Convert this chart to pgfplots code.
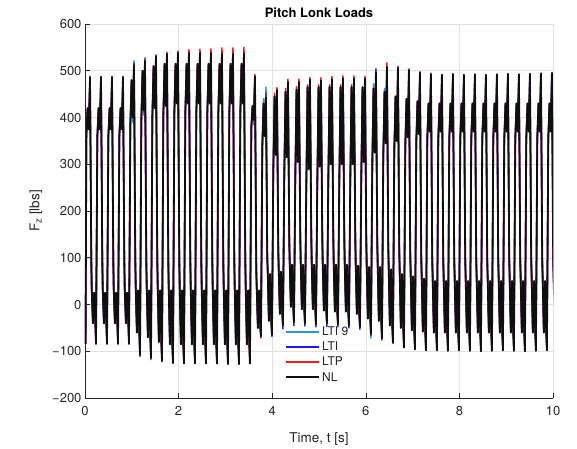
\documentclass[border=0pt]{standalone}
\usepackage{pgfplots}
\pgfplotsset{compat=1.18}
\usepackage{pgfplotstable}
\usepackage{fontspec}
\setmainfont{TeX Gyre Heros}
\definecolor{cLTInine}{RGB}{40,150,220}
\definecolor{cLTI}{RGB}{25,25,250}
\definecolor{cLTP}{RGB}{250,25,25}
\definecolor{cNL}{RGB}{15,15,15}
\definecolor{axc}{RGB}{38,38,38}
\definecolor{gridc}{RGB}{225,225,225}

\pgfplotstableread{
t nl ltp lti lti9
0.000 -30 -26 -30 -30
0.012 -84 -84 -84 -84
0.029 360 360 360 360
0.055 420 420 420 420
0.081 375 375 375 375
0.107 486 488 486 486
0.135 95 100 95 95
0.143 35 35 35 35
0.169 -40 -40 -40 -40
0.195 25 25 25 25
0.221 -40 -40 -40 -40
0.235 -84 -84 -84 -84
0.264 360 360 360 360
0.290 420 420 420 420
0.316 375 375 375 375
0.342 486 488 486 486
0.370 95 100 95 95
0.378 35 35 35 35
0.404 -40 -40 -40 -40
0.430 25 25 25 25
0.456 -40 -40 -40 -40
0.470 -84 -84 -84 -84
0.499 360 360 360 360
0.525 420 420 420 420
0.551 375 375 375 375
0.577 486 488 486 486
0.605 95 100 95 95
0.613 35 35 35 35
0.639 -40 -40 -40 -40
0.665 25 25 25 25
0.691 -40 -40 -40 -40
0.705 -84 -84 -84 -84
0.734 360 360 360 360
0.760 420 420 420 420
0.786 375 375 375 375
0.812 486 488 486 486
0.840 95 100 95 95
0.848 35 35 35 35
0.874 -40 -40 -40 -40
0.900 25 25 25 25
0.926 -40 -40 -40 -40
0.940 -84 -84 -84 -84
0.969 385 385 385 385
0.995 480 480 480 480
1.021 400 400 400 390
1.047 512 514 515 521
1.075 95 95 101 95
1.083 40 40 40 40
1.109 -60 -60 -60 -60
1.135 30 30 30 30
1.161 -60 -60 -60 -60
1.175 -108 -108 -111 -110
1.204 395 395 395 395
1.230 500 500 500 500
1.256 415 415 415 405
1.282 521 523 524 528
1.310 95 95 101 95
1.318 40 40 40 40
1.344 -70 -70 -70 -70
1.370 30 30 30 30
1.396 -70 -70 -70 -70
1.410 -114 -114 -116 -118
1.439 400 400 400 400
1.465 510 510 510 510
1.491 420 420 420 420
1.517 531 534 533 531
1.545 95 95 101 95
1.553 40 40 40 40
1.579 -80 -80 -80 -80
1.605 30 30 30 30
1.631 -80 -80 -80 -80
1.645 -120 -120 -122 -120
1.674 405 405 405 405
1.700 515 515 515 515
1.726 425 425 425 425
1.752 536 540 537 536
1.780 95 95 101 95
1.788 40 40 40 40
1.814 -85 -85 -85 -85
1.840 30 30 30 30
1.866 -85 -85 -85 -85
1.880 -125 -125 -125 -125
1.909 410 410 410 410
1.935 515 515 515 515
1.961 430 430 430 430
1.987 538 542 538 538
2.015 95 95 101 95
2.023 40 40 40 40
2.049 -85 -85 -85 -85
2.075 30 30 30 30
2.101 -85 -85 -85 -85
2.115 -126 -126 -126 -126
2.144 410 410 410 410
2.170 515 515 515 515
2.196 430 430 430 430
2.222 538 545 538 538
2.250 95 95 101 95
2.258 40 40 40 40
2.284 -85 -85 -85 -85
2.310 30 30 30 30
2.336 -85 -85 -85 -85
2.350 -126 -126 -126 -126
2.379 410 410 410 410
2.405 515 515 515 515
2.431 430 430 430 430
2.457 538 546 538 538
2.485 95 95 101 95
2.493 40 40 40 40
2.519 -85 -85 -85 -85
2.545 30 30 30 30
2.571 -85 -85 -85 -85
2.585 -126 -126 -126 -126
2.614 410 410 410 410
2.640 515 515 515 515
2.666 430 430 430 430
2.692 538 547 538 538
2.720 95 95 101 95
2.728 40 40 40 40
2.754 -85 -85 -85 -85
2.780 30 30 30 30
2.806 -85 -85 -85 -85
2.820 -126 -126 -126 -126
2.849 410 410 410 410
2.875 515 515 515 515
2.901 430 430 430 430
2.927 537 549 537 537
2.955 95 95 101 95
2.963 40 40 40 40
2.989 -85 -85 -85 -85
3.015 30 30 30 30
3.041 -85 -85 -85 -85
3.055 -127 -127 -127 -127
3.084 410 410 410 410
3.110 515 515 515 515
3.136 430 430 430 430
3.162 536 549 536 536
3.190 95 95 101 95
3.198 40 40 40 40
3.224 -85 -85 -85 -85
3.250 30 30 30 30
3.276 -85 -85 -85 -85
3.290 -127 -127 -127 -127
3.319 410 410 410 410
3.345 515 515 515 515
3.371 430 430 430 430
3.397 537 550 537 537
3.425 95 95 101 95
3.433 40 40 40 40
3.459 -85 -85 -85 -85
3.485 30 30 30 30
3.511 -85 -85 -85 -85
3.525 -126 -126 -126 -126
3.554 380 380 380 370
3.580 425 425 425 425
3.606 395 395 395 385
3.632 488 492 488 488
3.660 75 75 75 75
3.668 40 40 40 40
3.694 -50 -50 -50 -50
3.720 30 30 30 30
3.746 -50 -50 -50 -50
3.760 -68 -72 -68 -68
3.789 340 340 340 325
3.815 430 430 430 440
3.841 360 360 360 360
3.867 443 448 452 465
3.895 100 100 100 100
3.903 75 75 75 75
3.929 -35 -35 -35 -35
3.955 65 65 65 65
3.981 -35 -35 -35 -35
3.995 -65 -65 -68 -65
4.024 290 290 290 280
4.050 445 452 445 445
4.076 320 320 320 320
4.102 458 464 462 458
4.130 115 125 115 115
4.138 80 80 80 80
4.164 -20 -20 -20 -20
4.190 70 70 70 70
4.216 -20 -20 -20 -20
4.230 -45 -45 -52 -45
4.259 285 285 285 285
4.285 455 462 455 455
4.311 315 315 315 315
4.337 476 482 476 476
4.365 135 143 135 135
4.373 95 95 95 95
4.399 -5 -5 -5 -5
4.425 85 85 85 85
4.451 -5 -5 -5 -5
4.465 -38 -38 -45 -38
4.494 275 275 275 275
4.520 460 466 460 460
4.546 305 305 305 305
4.572 476 482 476 476
4.600 145 152 145 145
4.608 95 95 95 95
4.634 -10 -10 -10 -10
4.660 85 85 85 85
4.686 -10 -10 -10 -10
4.700 -40 -40 -46 -40
4.729 255 255 255 255
4.755 465 470 465 465
4.781 290 290 290 290
4.807 481 486 481 481
4.835 150 156 150 150
4.843 95 95 95 95
4.869 -10 -10 -10 -10
4.895 85 85 85 85
4.921 -10 -10 -10 -10
4.935 -42 -42 -48 -42
4.964 260 260 260 260
4.990 465 470 465 465
5.016 295 295 295 295
5.042 479 485 479 479
5.070 148 154 148 148
5.078 95 95 95 95
5.104 -13 -13 -13 -13
5.130 85 85 85 85
5.156 -13 -13 -13 -13
5.170 -40 -40 -47 -40
5.199 265 265 265 265
5.225 465 470 465 465
5.251 300 300 300 300
5.277 482 488 482 482
5.305 150 156 150 150
5.313 95 95 95 95
5.339 -15 -15 -15 -15
5.365 85 85 85 85
5.391 -15 -15 -15 -15
5.405 -42 -42 -48 -42
5.434 265 265 265 265
5.460 465 470 465 465
5.486 300 300 300 300
5.512 484 489 484 484
5.540 150 156 150 150
5.548 95 95 95 95
5.574 -15 -15 -15 -15
5.600 85 85 85 85
5.626 -15 -15 -15 -15
5.640 -44 -44 -50 -44
5.669 268 268 268 268
5.695 465 470 465 465
5.721 300 300 300 300
5.747 484 489 484 484
5.775 148 154 148 148
5.783 93 93 93 93
5.809 -20 -20 -20 -20
5.835 83 83 83 83
5.861 -20 -20 -20 -20
5.875 -48 -48 -53 -48
5.904 275 275 275 275
5.930 465 465 465 465
5.956 305 305 305 305
5.982 484 488 484 484
6.010 140 146 140 140
6.018 90 90 90 90
6.044 -30 -30 -30 -30
6.070 80 80 80 80
6.096 -30 -30 -30 -30
6.110 -63 -63 -66 -72
6.139 300 300 300 300
6.165 462 462 462 472
6.191 325 325 325 325
6.217 497 499 504 503
6.245 135 140 135 135
6.253 90 90 90 90
6.279 -35 -35 -35 -35
6.305 80 80 80 80
6.331 -35 -35 -35 -35
6.345 -72 -72 -76 -72
6.374 320 320 320 320
6.400 455 455 455 462
6.426 345 345 345 345
6.452 508 517 508 508
6.480 125 130 125 125
6.488 85 85 85 85
6.514 -45 -45 -45 -45
6.540 75 75 75 75
6.566 -45 -45 -45 -45
6.580 -82 -82 -82 -82
6.609 330 330 330 330
6.635 445 445 445 445
6.661 350 350 350 350
6.687 506 510 506 506
6.715 115 120 115 115
6.723 75 75 75 75
6.749 -50 -50 -50 -50
6.775 65 65 65 65
6.801 -50 -50 -50 -50
6.815 -92 -92 -92 -92
6.844 340 340 340 340
6.870 440 440 440 440
6.896 358 358 358 358
6.922 501 504 503 501
6.950 105 110 105 105
6.958 70 70 70 70
6.984 -55 -55 -55 -55
7.010 60 60 60 60
7.036 -55 -55 -55 -55
7.050 -96 -96 -96 -96
7.079 350 350 350 350
7.105 435 435 435 435
7.131 365 365 365 365
7.157 496 498 496 496
7.185 100 104 100 100
7.193 65 65 65 65
7.219 -58 -58 -58 -58
7.245 55 55 55 55
7.271 -58 -58 -58 -58
7.285 -98 -98 -98 -98
7.314 355 355 355 355
7.340 430 430 430 430
7.366 370 370 370 370
7.392 492 493 495 492
7.420 95 100 95 95
7.428 60 60 60 60
7.454 -60 -60 -60 -60
7.480 50 50 50 50
7.506 -60 -60 -60 -60
7.520 -98 -98 -98 -98
7.549 355 355 355 355
7.575 430 430 430 430
7.601 370 370 370 370
7.627 491 492 491 491
7.655 95 100 95 95
7.663 60 60 60 60
7.689 -60 -60 -60 -60
7.715 50 50 50 50
7.741 -60 -60 -60 -60
7.755 -99 -99 -99 -99
7.784 355 355 355 355
7.810 430 430 430 430
7.836 370 370 370 370
7.862 492 493 494 492
7.890 95 100 95 95
7.898 60 60 60 60
7.924 -60 -60 -60 -60
7.950 50 50 50 50
7.976 -60 -60 -60 -60
7.990 -98 -98 -98 -98
8.019 355 355 355 355
8.045 430 430 430 430
8.071 370 370 370 370
8.097 491 492 491 491
8.125 95 100 95 95
8.133 60 60 60 60
8.159 -60 -60 -60 -60
8.185 50 50 50 50
8.211 -60 -60 -60 -60
8.225 -99 -99 -99 -99
8.254 355 355 355 355
8.280 430 430 430 430
8.306 370 370 370 370
8.332 492 493 492 492
8.360 95 100 95 95
8.368 60 60 60 60
8.394 -60 -60 -60 -60
8.420 50 50 50 50
8.446 -60 -60 -60 -60
8.460 -100 -100 -100 -100
8.489 355 355 355 355
8.515 430 430 430 430
8.541 370 370 370 370
8.567 491 492 491 491
8.595 95 100 95 95
8.603 60 60 60 60
8.629 -60 -60 -60 -60
8.655 50 50 50 50
8.681 -60 -60 -60 -60
8.695 -99 -99 -99 -99
8.724 355 355 355 355
8.750 430 430 430 430
8.776 370 370 370 370
8.802 492 493 492 492
8.830 95 100 95 95
8.838 60 60 60 60
8.864 -60 -60 -60 -60
8.890 50 50 50 50
8.916 -60 -60 -60 -60
8.930 -98 -98 -98 -98
8.959 355 355 355 355
8.985 430 430 430 430
9.011 370 370 370 370
9.037 493 494 493 493
9.065 95 100 95 95
9.073 60 60 60 60
9.099 -60 -60 -60 -60
9.125 50 50 50 50
9.151 -60 -60 -60 -60
9.165 -99 -99 -99 -99
9.194 355 355 355 355
9.220 430 430 430 430
9.246 370 370 370 370
9.272 492 493 492 492
9.300 95 100 95 95
9.308 60 60 60 60
9.334 -60 -60 -60 -60
9.360 50 50 50 50
9.386 -60 -60 -60 -60
9.400 -100 -100 -100 -100
9.429 355 355 355 355
9.455 430 430 430 430
9.481 370 370 370 370
9.507 493 494 493 493
9.535 95 100 95 95
9.543 60 60 60 60
9.569 -60 -60 -60 -60
9.595 50 50 50 50
9.621 -60 -60 -60 -60
9.635 -99 -99 -99 -99
9.664 355 355 355 355
9.690 430 430 430 430
9.716 370 370 370 370
9.742 494 495 494 494
9.770 95 100 95 95
9.778 60 60 60 60
9.804 -60 -60 -60 -60
9.830 50 50 50 50
9.856 -60 -60 -60 -60
9.870 -98 -98 -98 -98
9.899 355 355 355 355
9.925 430 430 430 430
9.951 370 370 370 370
9.977 495 496 495 495
10.005 95 100 95 95
10.013 60 60 60 60
10.039 -60 -60 -60 -60
}\loads

\begin{document}
\begin{tikzpicture}
\begin{axis}[
  scale only axis, width=468pt, height=374pt,
  xmin=0, xmax=10, ymin=-200, ymax=600,
  axis lines*=left,
  xtick={0,2,4,6,8,10},
  ytick={-200,-100,0,100,200,300,400,500,600},
  yticklabels={−200,−100,0,100,200,300,400,500,600},
  grid=major,
  major grid style={gridc, line width=0.5pt},
  axis line style={axc, line width=0.6pt},
  tick style={axc, line width=0.6pt},
  major tick length=5pt,
  tick align=inside,
  ticklabel style={font=\fontsize{13}{15}\selectfont, text=axc},
  xticklabel style={yshift=-5pt},
  /pgf/number format/assume math mode=true,
  xlabel={Time, t [s]},
  ylabel={F\textsubscript{z} [lbs]},
  label style={font=\fontsize{13.5}{16}\selectfont, text=axc},
  xlabel style={yshift=-10pt},
  ylabel style={yshift=3pt},
  title={Pitch Lonk Loads},
  title style={font=\fontsize{13}{15}\selectfont\bfseries, yshift=-3.5pt},
  legend style={at={(rel axis cs:0.427,0.197)}, anchor=north west, draw=none, fill=none,
    font=\fontsize{12}{14}\selectfont, text=axc, row sep=1pt, inner sep=0pt},
  legend cell align=left,
  legend image code/.code={\draw[#1, line width=2.2pt] (0pt,0pt) -- (33pt,0pt);},
  every axis plot/.append style={line join=round},
]
\addplot[cLTInine, line width=1.5pt] table[x=t, y=lti9] {\loads};
\addlegendentry{LTI 9}
\addplot[cLTI, line width=1.5pt] table[x=t, y=lti] {\loads};
\addlegendentry{LTI}
\addplot[cLTP, line width=1.5pt] table[x=t, y=ltp] {\loads};
\addlegendentry{LTP}
\addplot[cNL, line width=1.8pt] table[x=t, y=nl] {\loads};
\addlegendentry{NL}
\coordinate (BL) at (rel axis cs:0,0);
\coordinate (TR) at (rel axis cs:1,1);
\end{axis}
\path ([shift={(-85pt,-46pt)}]BL) rectangle ([shift={(24pt,24pt)}]TR);
\end{tikzpicture}
\end{document}
